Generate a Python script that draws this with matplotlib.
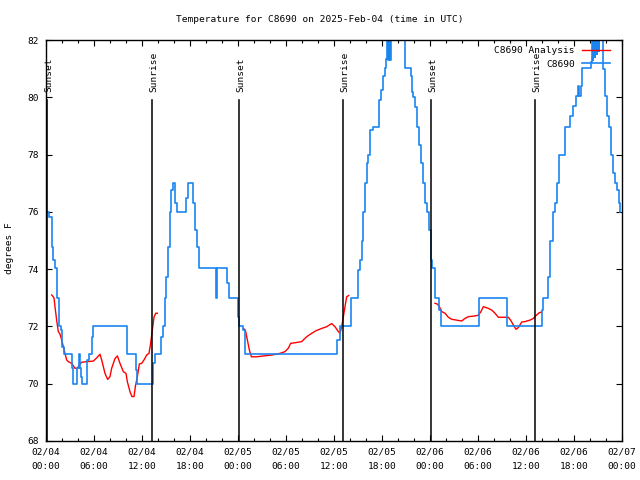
import numpy as np
import matplotlib
matplotlib.use("Agg")
import matplotlib.pyplot as plt
from matplotlib.ticker import MultipleLocator

plt.rcParams['font.family'] = ['DejaVu Sans Mono']
plt.rcParams['font.size'] = 6.8

# hours after 2025-02-04 00:00 UTC
obs_hours = [0.17, 0.42, 0.71, 0.92, 1.17, 1.42, 1.625, 1.83, 2.04, 2.25, 3.21, 3.42,
             3.92, 4.17, 4.25, 4.33, 4.54, 5.17, 5.42, 5.71, 5.92, 10.08, 11.25, 11.42,
             13.42, 13.625, 14.33, 14.58, 14.83, 15.0, 15.25, 15.5, 15.67, 15.83, 16.125,
             16.42, 17.46, 17.71, 18.42, 18.625, 18.83, 19.08, 21.21, 21.42, 22.67, 22.92,
             24.0, 24.17, 24.67, 24.92, 36.42, 36.75, 38.17, 39.0, 39.25, 39.5, 39.67,
             39.92, 40.08, 40.25, 40.5, 40.83, 41.58, 41.83, 42.08, 42.33, 42.46, 42.67,
             42.77, 42.875, 42.98, 43.08, 43.5, 44.0, 44.5, 44.92, 45.58, 45.71, 45.92,
             46.125, 46.33, 46.58, 46.83, 47.08, 47.33, 47.58, 47.83, 48.08, 48.25, 48.67,
             49.17, 49.42, 54.17, 57.67, 61.96, 62.17, 62.71, 63.0, 63.33, 63.625, 63.83,
             64.17, 64.92, 65.5, 65.9, 66.25, 66.46, 66.625, 66.83, 67.04, 68.08, 68.21,
             68.33, 68.42, 68.58, 68.67, 68.83, 68.92, 69.08, 69.17, 69.58, 69.83, 70.08,
             70.33, 70.58, 70.83, 71.125, 71.42, 71.625, 71.75]
obs_temp = [76.0, 75.83, 74.79, 74.32, 74.04, 73.0, 72.0, 71.87, 71.29, 71.03, 70.54, 70.0,
            70.54, 71.03, 70.54, 70.25, 70.0, 70.83, 71.03, 71.64, 72.0, 71.03, 70.48, 70.0,
            70.71, 71.03, 71.64, 72.0, 73.0, 73.74, 74.79, 76.0, 76.76, 77.0, 76.3,
            76.0, 76.5, 77.0, 76.3, 75.37, 74.79, 74.04, 73.0, 74.04, 73.5, 73.0,
            72.34, 72.0, 71.87, 71.03, 71.53, 72.0, 73.0, 73.97, 74.32, 75.0, 76.0,
            77.0, 77.69, 78.0, 78.86, 78.97, 79.9, 80.25, 80.74, 81.03, 81.33, 82.5,
            81.3, 82.5, 81.3, 82.8, 83.2, 83.0, 82.6, 81.03, 80.74, 80.2, 80.02,
            79.67, 78.97, 78.33, 77.69, 77.0, 76.3, 76.0, 75.37, 74.32, 74.04, 73.0,
            72.57, 72.0, 73.0, 72.0, 72.57, 73.0, 73.74, 75.0, 76.0, 76.3, 77.0,
            78.0, 78.97, 79.35, 79.7, 80.04, 80.39, 80.04, 80.39, 81.03, 81.23, 82.6,
            81.3, 82.6, 81.4, 82.7, 81.5, 82.8, 81.6, 82.5, 80.98, 80.04, 79.35,
            78.97, 78.0, 77.34, 77.0, 76.76, 76.3, 76.0]

ana_hours = [0.71, 1.0, 1.125, 1.33, 1.54, 1.75, 1.96, 2.17, 2.375, 2.58, 2.79, 3.21, 3.625,
             3.92, 4.17, 4.46, 5.08, 5.92, 6.33, 6.75, 6.96, 7.375, 7.71, 8.0, 8.21, 8.625,
             8.92, 9.25, 9.67, 10.0, 10.17, 10.5, 10.75, 11.0, 11.17, 11.42, 11.67, 11.96,
             12.25, 12.58, 12.875, 13.08, 13.29, 13.5, 13.71, 13.92,
             19.0,
             24.67, 24.92, 25.17, 25.42, 25.67, 26.33, 27.17, 28.21, 29.25, 29.875, 30.29,
             30.58, 31.125, 31.96, 32.58, 33.21, 33.75, 34.46, 35.08, 35.71, 36.125, 36.54,
             36.75, 36.96, 37.17, 37.375, 37.58, 37.83,
             43.0,
             48.625, 48.92, 49.17, 49.46, 49.875, 50.29, 50.71, 51.33, 51.96, 52.375, 52.79,
             53.42, 54.04, 54.33, 54.67, 55.29, 55.71, 56.125, 56.54, 57.17, 57.79, 58.08,
             58.42, 58.75, 59.04, 59.46, 59.875, 60.5, 60.92, 61.33, 61.67, 61.92]
ana_temp = [73.1, 73.0, 72.69, 72.22, 71.82, 71.73, 71.53, 71.29, 71.06, 70.83, 70.77, 70.71,
            70.54, 70.54, 70.66, 70.75, 70.77, 70.79, 70.9, 71.03, 70.83, 70.36, 70.15, 70.25,
            70.54, 70.88, 70.97, 70.71, 70.42, 70.36, 70.07, 69.72, 69.55, 69.55, 69.9, 70.25,
            70.69, 70.71, 70.83, 71.0, 71.06, 71.41, 71.87, 72.32, 72.46, 72.46,
            np.nan,
            71.93, 71.87, 71.53, 71.18, 70.94, 70.94, 70.97, 71.0, 71.06, 71.12, 71.24,
            71.41, 71.43, 71.47, 71.64, 71.76, 71.85, 71.93, 71.99, 72.1, 71.99, 71.82,
            71.76, 71.99, 72.34, 72.69, 73.03, 73.08,
            np.nan,
            72.81, 72.78, 72.69, 72.52, 72.46, 72.32, 72.25, 72.22, 72.19, 72.28, 72.34,
            72.36, 72.39, 72.5, 72.69, 72.63, 72.57, 72.46, 72.32, 72.32, 72.32, 72.22,
            72.05, 71.9, 71.96, 72.15, 72.17, 72.22, 72.28, 72.4, 72.48, 72.5]

sun_hours = [0.15, 13.29, 24.17, 37.17, 48.17, 61.17]
sun_labels = ['Sunset', 'Sunrise', 'Sunset', 'Sunrise', 'Sunset', 'Sunrise']

xticks = [0, 6, 12, 18, 24, 30, 36, 42, 48, 54, 60, 66, 72]
xlabels = ['02/04\n00:00', '02/04\n06:00', '02/04\n12:00', '02/04\n18:00',
           '02/05\n00:00', '02/05\n06:00', '02/05\n12:00', '02/05\n18:00',
           '02/06\n00:00', '02/06\n06:00', '02/06\n12:00', '02/06\n18:00',
           '02/07\n00:00']
yticks = [68, 70, 72, 74, 76, 78, 80, 82]

fig = plt.figure(figsize=(6.4, 4.8), dpi=100)
ax = fig.add_axes([46/640, 39/480, 576/640, 401/480])

ax.plot(ana_hours, ana_temp, color='#ff0000', lw=1.0, label='C8690 Analysis')
ax.plot(obs_hours, obs_temp, color='#1a85f0', lw=1.2, drawstyle='steps-post', label='C8690')

trans = ax.get_xaxis_transform()
for h, lab in zip(sun_hours, sun_labels):
    ax.axvline(h, ymin=0, ymax=0.85, color='black', lw=1.1)
    ax.text(h + 0.2, 0.87, lab, rotation=90, transform=trans, ha='center', va='bottom')

ax.set_xlim(0, 72)
ax.set_ylim(68, 82)
ax.set_xticks(xticks)
ax.set_xticklabels(xlabels)
for t in ax.get_xticklabels():
    t.set_linespacing(1.85)
ax.xaxis.set_minor_locator(MultipleLocator(2))
ax.set_yticks(yticks)
ax.tick_params(which='both', direction='in', top=True, right=True, width=0.8)
ax.tick_params(which='major', length=4)
ax.tick_params(axis='x', which='major', pad=4.5)
ax.tick_params(axis='y', which='major', pad=5)
ax.tick_params(which='minor', length=2.5)
for s in ax.spines.values():
    s.set_linewidth(1.0)

ax.set_ylabel('degrees F')
ax.yaxis.set_label_coords(-0.055, 0.48)

fig.text(0.5, 1 - 19/480, 'Temperature for C8690 on 2025-Feb-04 (time in UTC)',
         ha='center', va='center')

ax.legend(loc='upper right', bbox_to_anchor=(0.979, 0.985), frameon=False,
          markerfirst=False, borderpad=0, borderaxespad=0, handlelength=3.0,
          handletextpad=0.7, labelspacing=0.5)

fig.savefig('out.png', dpi=100)
